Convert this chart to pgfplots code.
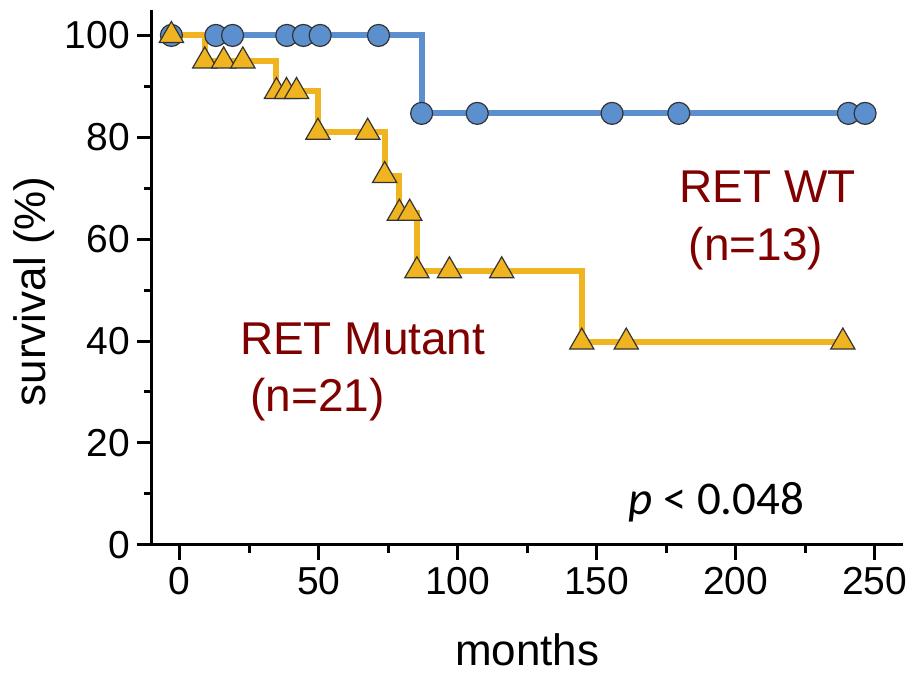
\documentclass[border=0pt]{standalone}
\usepackage{fontspec}
\setmainfont{Liberation Sans}
\newfontfamily\carlito{Carlito}
\usepackage{pgfplots}
\pgfplotsset{compat=1.18}
\definecolor{wtblue}{RGB}{91,143,206}
\definecolor{mutyel}{RGB}{240,180,32}
\definecolor{lab}{RGB}{128,0,0}
\begin{document}
\begin{tikzpicture}
\begin{axis}[
  scale only axis, width=375.5pt, height=267.5pt,
  xmin=-10, xmax=260, ymin=0, ymax=105,
  axis lines*=left, axis line style={line width=1.5pt},
  tick align=outside, tick style={line width=1.5pt, black},
  major tick length=7.5pt, minor tick length=4pt,
  xtick={0,50,...,250}, ytick={0,20,...,100}, minor tick num=1,
  /pgf/number format/assume math mode=true,
  tick label style={font=\fontsize{19.5}{23}\selectfont},
  xlabel={months}, ylabel={survival (\%)},
  label style={font=\fontsize{22}{26}\selectfont},
  xlabel style={at={(axis description cs:0.5,0)}, anchor=base, yshift=-60.5pt},
  ylabel style={at={(axis description cs:-0.157,0.474)}, anchor=center},
  clip=false,
]
% RET WT
\addplot[const plot, wtblue, line width=3pt, mark=*,
  mark options={solid, fill=wtblue, draw=black!80, line width=0.6pt}, mark size=5.5pt]
  coordinates {
  (-3,100) (13,100) (19,100) (38.5,100) (44.5,100) (50.5,100) (71.5,100)
  (87,84.7) (107,84.7) (155.5,84.7) (179.5,84.7) (240.5,84.7) (246.5,84.7)
};
% RET Mutant
\addplot[const plot, mutyel, line width=3pt, mark=triangle*,
  mark options={solid, fill=mutyel, draw=black!80, line width=0.6pt}, mark size=7pt]
  coordinates {
  (-3,100) (9,95) (15.8,95) (22.7,95) (34.8,89) (38.4,89) (42,89)
  (49.7,81) (67.6,81) (73.7,72.5) (79,65.1) (82.7,65.1)
  (85.3,53.8) (97,53.8) (115.8,53.8) (144.6,39.8) (160.6,39.8) (238.5,39.8)
};
\coordinate (O) at (rel axis cs:0,0);
\node[lab, anchor=base, font=\fontsize{23}{27}\selectfont] at (axis cs:211.5,67.3) {RET WT};
\node[lab, anchor=base, font=\fontsize{23}{27}\selectfont] at (axis cs:207.2,55.9) {(n=13)};
\node[lab, anchor=base, font=\fontsize{23}{27}\selectfont] at (axis cs:65.8,37.3) {RET Mutant};
\node[lab, anchor=base, font=\fontsize{23}{27}\selectfont] at (axis cs:49.6,26.1) {(n=21)};
\node[anchor=base west, inner sep=0pt, font=\carlito\fontsize{23.5}{27}\selectfont] at (axis cs:161.2,5.9) {\textit{p} < 0.048};
\end{axis}
\path[use as bounding box] ([shift={(-76pt,-64.5pt)}]O) rectangle ([shift={(381pt,272.5pt)}]O);
\end{tikzpicture}
\end{document}
